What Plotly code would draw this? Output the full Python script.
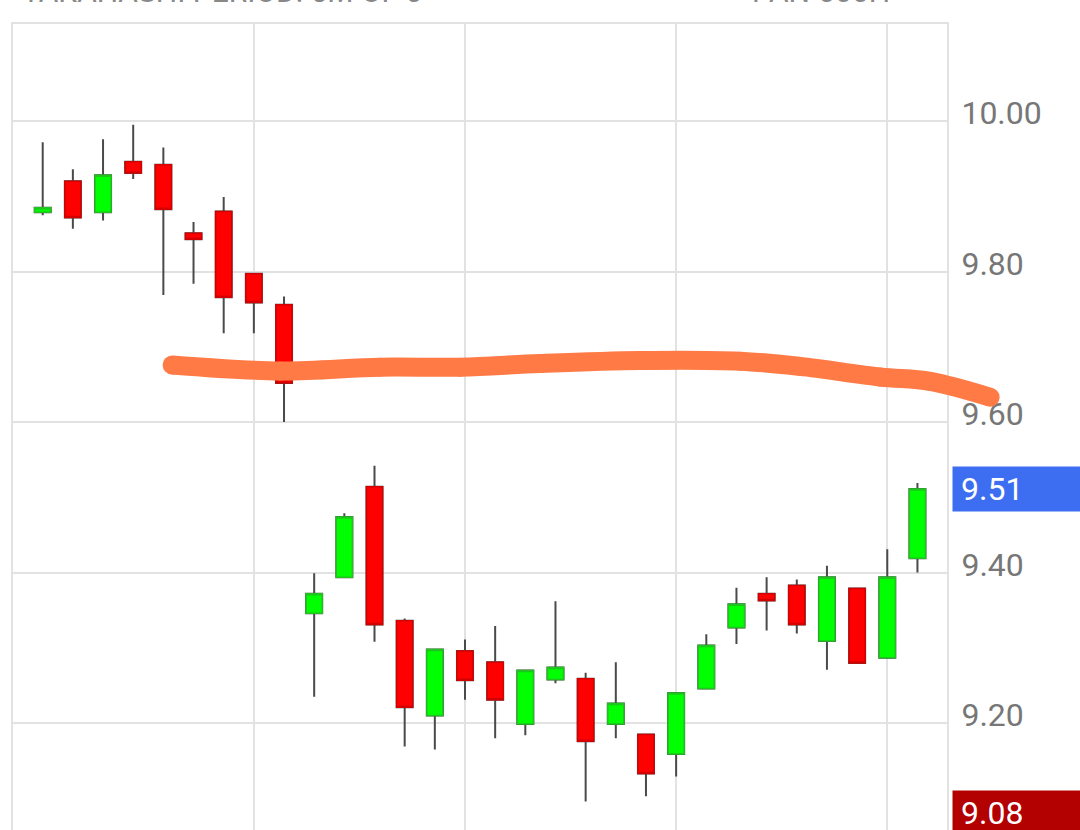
import plotly.graph_objects as go

# ---- data ----
candle_index = list(range(30))
open_ = [9.879, 9.920, 9.879, 9.946, 9.942, 9.851, 9.880, 9.797, 9.756, 9.346,
         9.394, 9.514, 9.336, 9.210, 9.296, 9.281, 9.199, 9.258, 9.259, 9.199,
         9.185, 9.159, 9.246, 9.327, 9.372, 9.383, 9.309, 9.379, 9.287, 9.419]
high = [9.972, 9.936, 9.976, 9.995, 9.965, 9.866, 9.899, 9.798, 9.767, 9.399,
        9.479, 9.542, 9.339, 9.299, 9.311, 9.329, 9.271, 9.362, 9.267, 9.281,
        9.186, 9.241, 9.318, 9.380, 9.394, 9.391, 9.409, 9.380, 9.431, 9.519]
low = [9.875, 9.857, 9.868, 9.923, 9.769, 9.784, 9.718, 9.718, 9.600, 9.235,
       9.393, 9.308, 9.169, 9.165, 9.231, 9.180, 9.184, 9.253, 9.096, 9.180,
       9.103, 9.129, 9.245, 9.305, 9.323, 9.319, 9.271, 9.279, 9.286, 9.400]
close = [9.885, 9.872, 9.928, 9.931, 9.883, 9.843, 9.766, 9.759, 9.652, 9.372,
         9.474, 9.331, 9.221, 9.298, 9.257, 9.231, 9.270, 9.274, 9.176, 9.226,
         9.133, 9.240, 9.303, 9.358, 9.363, 9.331, 9.394, 9.280, 9.394, 9.511]

y_ticks = [9.20, 9.40, 9.60, 9.80, 10.00]
x_grid_ticks = [7, 14, 21, 28]
last_price = close[-1]
low_marker = 9.08

# hand-drawn orange stroke (x in candle index units, y in price)
stroke_x = [4.29, 7.87, 11.18, 13.84, 16.49, 19.81, 23.12, 25.11, 27.76, 29.42, 31.41]
stroke_y = [9.676, 9.668, 9.673, 9.673, 9.678, 9.682, 9.681, 9.674, 9.660, 9.654, 9.633]

header_left = "TAKAHASHI PERIOD: 5M OF 0"
header_right = "PAN-000H"

# ---- layout geometry ----
W, H = 1080, 830
plot_left, plot_right, plot_top = 13, 947, 24
x_range = [-0.985, 29.98]
y_range = [9.058, 10.129]

px_per_unit = (plot_right - plot_left) / (x_range[1] - x_range[0])
x2_range = [x_range[0] - plot_left / px_per_unit,
            x_range[1] + (W - plot_right) / px_per_unit]

GREEN, RED = "#00ff00", "#ff0000"
GRID = "#e2e2e2"
LABEL = "#777777"

fig = go.Figure()

# wicks (gray)
fig.add_trace(go.Candlestick(
    x=candle_index, open=open_, high=high, low=low, close=close,
    increasing=dict(line=dict(color="#4a4a4a", width=2), fillcolor=GREEN),
    decreasing=dict(line=dict(color="#4a4a4a", width=2), fillcolor=RED),
    whiskerwidth=0, hoverinfo="skip", showlegend=False,
))
# bodies with coloured outline
body_hi = [max(o, c) for o, c in zip(open_, close)]
body_lo = [min(o, c) for o, c in zip(open_, close)]
fig.add_trace(go.Candlestick(
    x=candle_index, open=open_, high=body_hi, low=body_lo, close=close,
    increasing=dict(line=dict(color="#1fc41f", width=1.5), fillcolor=GREEN),
    decreasing=dict(line=dict(color="#d40000", width=1.5), fillcolor=RED),
    whiskerwidth=0, hoverinfo="skip", showlegend=False,
))

# orange hand-drawn stroke on a full-width overlay subplot so it is not clipped
fig.add_trace(go.Scatter(
    x=stroke_x, y=stroke_y, xaxis="x2", yaxis="y2",
    mode="lines+markers", line=dict(color="#ff7a45", width=19, shape="spline"),
    marker=dict(color="#ff7a45", size=19), hoverinfo="skip", showlegend=False,
))

fig.update_layout(
    width=W, height=H,
    margin=dict(l=0, r=0, t=0, b=0),
    paper_bgcolor="white", plot_bgcolor="rgba(0,0,0,0)",
    boxgap=0.24,
    font=dict(family="Roboto", color=LABEL),
    xaxis=dict(
        domain=[plot_left / W, plot_right / W], range=x_range,
        tickvals=x_grid_ticks, showticklabels=False, ticks="",
        showgrid=True, gridcolor=GRID, gridwidth=2,
        showline=True, linecolor=GRID, linewidth=2, mirror=True,
        zeroline=False, rangeslider=dict(visible=False), fixedrange=True,
    ),
    yaxis=dict(
        domain=[0, (H - plot_top) / H], range=y_range, side="right",
        tickvals=y_ticks, tickformat=".2f", ticks="",
        tickfont=dict(family="Roboto", size=32, color=LABEL),
        ticklabelstandoff=6, ticklabelshift=-8,
        showgrid=True, gridcolor=GRID, gridwidth=2,
        showline=True, linecolor=GRID, linewidth=2, mirror=True,
        zeroline=False, automargin=False, fixedrange=True,
    ),
    xaxis2=dict(domain=[0, 1], range=x2_range, anchor="y2", visible=False,
                showgrid=False, zeroline=False, fixedrange=True),
    yaxis2=dict(domain=[0, (H - plot_top) / H], range=y_range, anchor="x2",
                visible=False, showgrid=False, zeroline=False, fixedrange=True),
)

label_style = dict(xref="paper", yref="y", x=952 / W, xanchor="left",
                   yanchor="middle", showarrow=False, align="left",
                   width=112, height=28, borderpad=8,
                   font=dict(family="Roboto", size=32, color="white"))
fig.add_annotation(text=f"{last_price:.2f}", y=last_price,
                   bgcolor="#3d6ef2", **label_style)
fig.add_annotation(text=f"{low_marker:.2f}", y=low_marker,
                   bgcolor="#b30000", **label_style)

# header text, mostly cut off by the top edge (as in the source screenshot)
header_style = dict(xref="paper", yref="paper", y=1 - 11 / H, yanchor="bottom",
                    showarrow=False, xanchor="left",
                    font=dict(family="Roboto", size=30, color="#888888"))
fig.add_annotation(text=header_left, x=20 / W, **header_style)
fig.add_annotation(text=header_right, x=750 / W, **header_style)

fig.write_html("out.html",
               config={"displayModeBar": False},
               post_script="document.body.style.margin='0';"
                           "document.body.style.padding='0';")
